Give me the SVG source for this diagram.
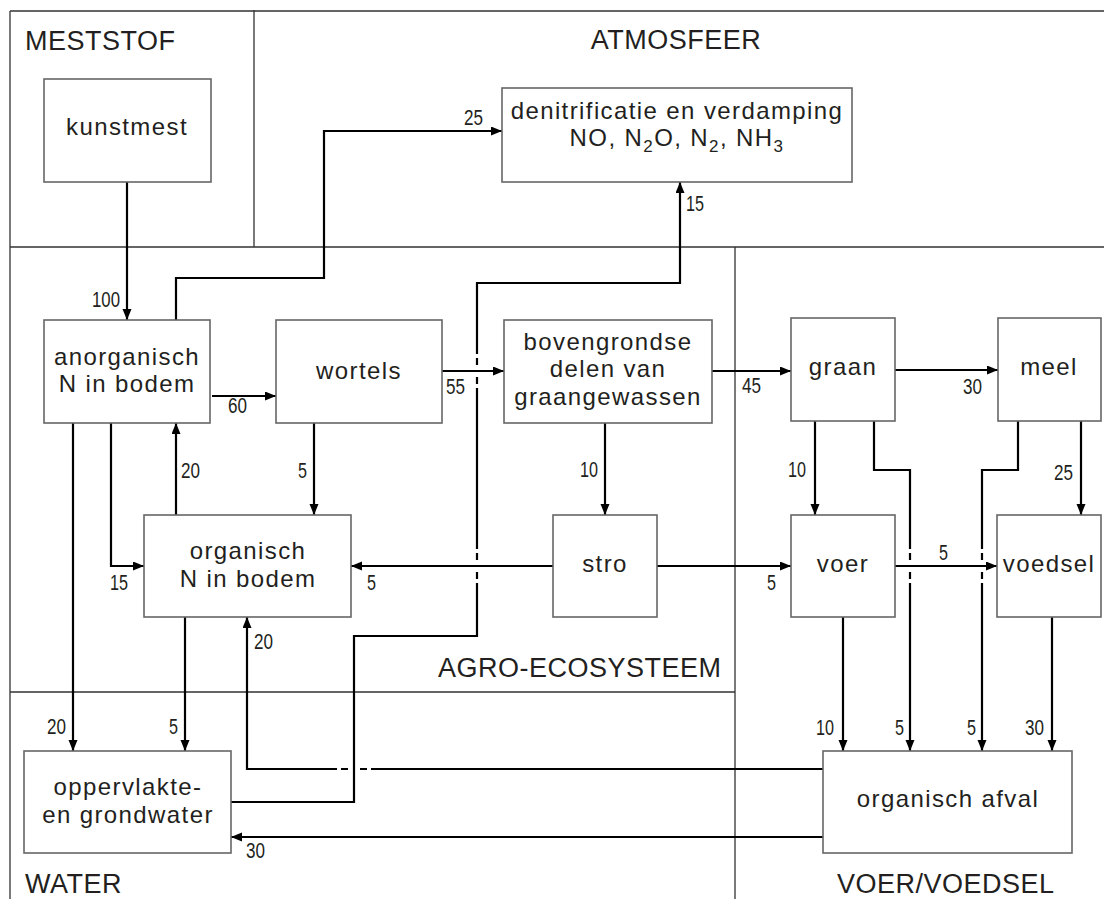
<svg xmlns="http://www.w3.org/2000/svg" width="1104" height="899" viewBox="0 0 1104 899">
<defs>
<marker id="ah" markerUnits="userSpaceOnUse" markerWidth="12" markerHeight="10" refX="11" refY="4.5" orient="auto">
<path d="M0,0 L11,4.5 L0,9 z" fill="#000"/>
</marker>
<style>
.frame{stroke:#333;stroke-width:1.3;fill:none}
.box{fill:#fff;stroke:#666;stroke-width:1.6}
.nt{font-family:"Liberation Sans",Arial,sans-serif;font-size:24px;letter-spacing:1.4px;fill:#231f20;text-anchor:middle}
.rt{font-family:"Liberation Sans",Arial,sans-serif;font-size:27px;letter-spacing:0.5px;fill:#231f20}
.c{stroke:#000;stroke-width:2.2;fill:none}
.a{marker-end:url(#ah)}
.n{font-family:"Liberation Sans",Arial,sans-serif;font-size:22px;fill:#231f20}
</style>
</defs>
<rect width="1104" height="899" fill="#fff"/>
<g id="frame">
<path class="frame" d="M10,11 H1104 M10,11 V899 M254,10 V247 M10,247 H1104 M735,247 V899 M10,692 H735"/>
<text class="rt" x="25" y="50">MESTSTOF</text>
<text class="rt" x="676" y="49" text-anchor="middle">ATMOSFEER</text>
<text class="rt" x="438" y="677">AGRO-ECOSYSTEEM</text>
<text class="rt" x="25" y="893">WATER</text>
<text class="rt" x="837" y="893">VOER/VOEDSEL</text>
</g>
<g id="connectors">
<path class="c a" d="M127,182 V320"/>
<path class="c a" d="M176,320 V278 H324 V131 H502"/>
<path class="c a" d="M212,396 H276"/>
<path class="c a" d="M111,423 V566 H144"/>
<path class="c a" d="M176,515 V423"/>
<path class="c a" d="M314,423 V515"/>
<path class="c a" d="M73,423 V751"/>
<path class="c a" d="M185,617 V751"/>
<path class="c a" d="M442,371 H504"/>
<path class="c a" d="M712,371 H791"/>
<path class="c a" d="M895,370 H998"/>
<path class="c a" d="M605,423 V515"/>
<path class="c a" d="M553,566 H351"/>
<path class="c a" d="M657,566 H791"/>
<path class="c a" d="M815,421 V515"/>
<path class="c a" d="M1081,421 V515"/>
<path class="c a" d="M895,566 H997"/>
<path class="c" d="M874,421 V470 H910 V549 M910,553 V560 M910,572 V579"/>
<path class="c a" d="M910,583 V751"/>
<path class="c" d="M1018,421 V470 H982 V549 M982,553 V560 M982,572 V579"/>
<path class="c a" d="M982,583 V751"/>
<path class="c a" d="M843,617 V751"/>
<path class="c a" d="M1052,617 V751"/>
<path class="c" d="M823,769 H371 M367,769 H360 M348,769 H341"/>
<path class="c a" d="M337,769 H247 V617"/>
<path class="c a" d="M823,837 H231"/>
<path class="c" d="M231,802 H354 V636 H477 V583 M477,579 V572 M477,560 V553 M477,549 V388 M477,384 V377 M477,365 V358"/>
<path class="c a" d="M477,354 V283 H680 V182"/>
<text class="n" x="92" y="307" textLength="28" lengthAdjust="spacingAndGlyphs">100</text>
<text class="n" x="464" y="125" textLength="19" lengthAdjust="spacingAndGlyphs">25</text>
<text class="n" x="228" y="413" textLength="19" lengthAdjust="spacingAndGlyphs">60</text>
<text class="n" x="110" y="590" textLength="18" lengthAdjust="spacingAndGlyphs">15</text>
<text class="n" x="181" y="478" textLength="19" lengthAdjust="spacingAndGlyphs">20</text>
<text class="n" x="298" y="478" textLength="9" lengthAdjust="spacingAndGlyphs">5</text>
<text class="n" x="47" y="734" textLength="19" lengthAdjust="spacingAndGlyphs">20</text>
<text class="n" x="169" y="734" textLength="9" lengthAdjust="spacingAndGlyphs">5</text>
<text class="n" x="446" y="394" textLength="19" lengthAdjust="spacingAndGlyphs">55</text>
<text class="n" x="742" y="393" textLength="19" lengthAdjust="spacingAndGlyphs">45</text>
<text class="n" x="963" y="394" textLength="19" lengthAdjust="spacingAndGlyphs">30</text>
<text class="n" x="580" y="477" textLength="18" lengthAdjust="spacingAndGlyphs">10</text>
<text class="n" x="367" y="590" textLength="9" lengthAdjust="spacingAndGlyphs">5</text>
<text class="n" x="767" y="590" textLength="9" lengthAdjust="spacingAndGlyphs">5</text>
<text class="n" x="788" y="477" textLength="18" lengthAdjust="spacingAndGlyphs">10</text>
<text class="n" x="1054" y="480" textLength="19" lengthAdjust="spacingAndGlyphs">25</text>
<text class="n" x="939" y="560" textLength="9" lengthAdjust="spacingAndGlyphs">5</text>
<text class="n" x="895" y="735" textLength="9" lengthAdjust="spacingAndGlyphs">5</text>
<text class="n" x="967" y="735" textLength="9" lengthAdjust="spacingAndGlyphs">5</text>
<text class="n" x="816" y="735" textLength="18" lengthAdjust="spacingAndGlyphs">10</text>
<text class="n" x="1025" y="735" textLength="19" lengthAdjust="spacingAndGlyphs">30</text>
<text class="n" x="254" y="649" textLength="19" lengthAdjust="spacingAndGlyphs">20</text>
<text class="n" x="246" y="858" textLength="19" lengthAdjust="spacingAndGlyphs">30</text>
<text class="n" x="686" y="211" textLength="18" lengthAdjust="spacingAndGlyphs">15</text>
</g>
<g id="kunstmest"><rect class="box" x="44" y="79" width="167" height="103"/><text class="nt" x="127" y="135">kunstmest</text></g>
<g id="denitrificatie"><rect class="box" x="502" y="88" width="350" height="94"/><text class="nt" x="677" y="119">denitrificatie en verdamping</text><text class="nt" x="677" y="146">NO, N<tspan font-size="17" dy="6">2</tspan><tspan dy="-6">O, N</tspan><tspan font-size="17" dy="6">2</tspan><tspan dy="-6">, NH</tspan><tspan font-size="17" dy="6">3</tspan></text></g>
<g id="anorganisch"><rect class="box" x="44" y="320" width="166" height="103"/><text class="nt" x="127" y="365">anorganisch</text><text class="nt" x="127" y="392">N in bodem</text></g>
<g id="wortels"><rect class="box" x="276" y="320" width="166" height="103"/><text class="nt" x="359" y="379">wortels</text></g>
<g id="bovengrondse"><rect class="box" x="504" y="320" width="208" height="103"/><text class="nt" x="608" y="350">bovengrondse</text><text class="nt" x="608" y="377">delen van</text><text class="nt" x="608" y="405">graangewassen</text></g>
<g id="graan"><rect class="box" x="791" y="318" width="104" height="103"/><text class="nt" x="843" y="375">graan</text></g>
<g id="meel"><rect class="box" x="998" y="318" width="103" height="103"/><text class="nt" x="1049" y="375">meel</text></g>
<g id="organisch-n"><rect class="box" x="144" y="515" width="207" height="102"/><text class="nt" x="248" y="559">organisch</text><text class="nt" x="248" y="587">N in bodem</text></g>
<g id="stro"><rect class="box" x="553" y="515" width="104" height="102"/><text class="nt" x="605" y="572">stro</text></g>
<g id="voer"><rect class="box" x="791" y="515" width="104" height="102"/><text class="nt" x="843" y="572">voer</text></g>
<g id="voedsel"><rect class="box" x="997" y="515" width="104" height="102"/><text class="nt" x="1049" y="572">voedsel</text></g>
<g id="oppervlakte"><rect class="box" x="24" y="751" width="207" height="102"/><text class="nt" x="128" y="795">oppervlakte-</text><text class="nt" x="128" y="823">en grondwater</text></g>
<g id="organisch-afval"><rect class="box" x="823" y="751" width="249" height="102"/><text class="nt" x="948" y="807">organisch afval</text></g>
</svg>
